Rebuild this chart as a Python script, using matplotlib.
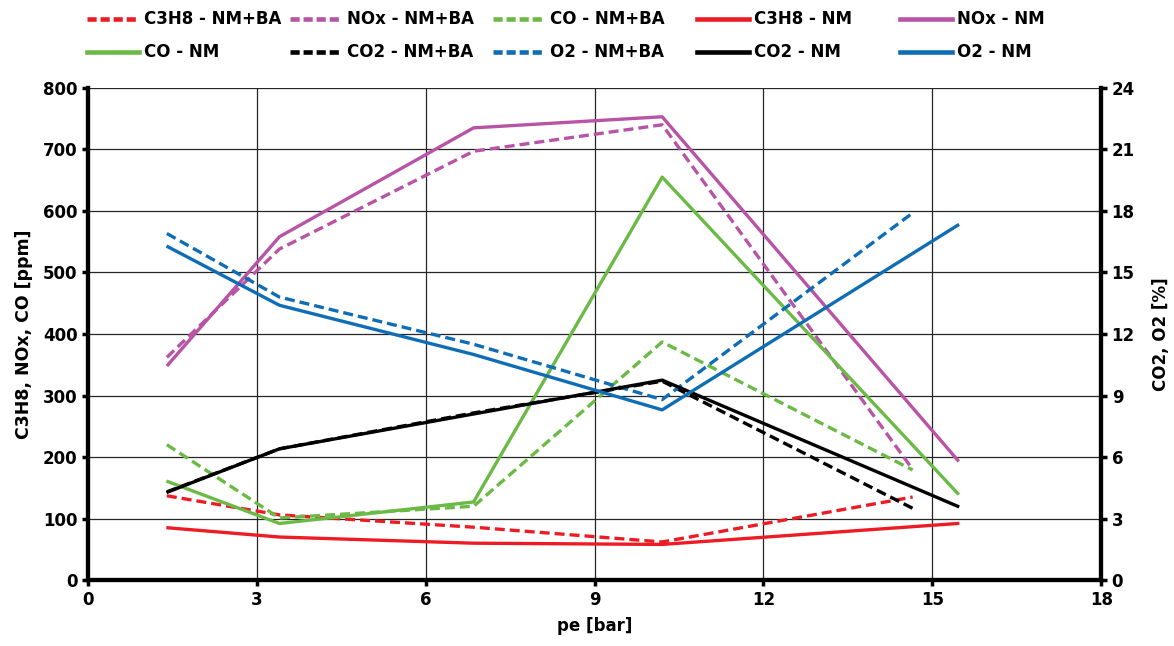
import matplotlib
matplotlib.use('Agg')
import matplotlib.pyplot as plt
from matplotlib.lines import Line2D

plt.rcParams['font.family'] = ['DejaVu Sans']
plt.rcParams['font.weight'] = 'bold'

# pe [bar] for the two test series
pe_ba = [1.4, 3.4, 6.85, 10.2, 14.65]
pe_nm = [1.42, 3.4, 6.85, 10.2, 15.45]

# ppm (left axis)
c3h8_ba = [137, 106, 86, 62, 135]
c3h8_nm = [85, 70, 60, 58, 92]
nox_ba = [362, 538, 697, 740, 180]
nox_nm = [350, 558, 735, 753, 195]
co_ba = [220, 101, 120, 387, 179]
co_nm = [160, 92, 127, 655, 141]

# % (right axis)
co2_ba = [4.3, 6.4, 8.15, 9.7, 3.5]
co2_nm = [4.3, 6.4, 8.1, 9.75, 3.6]
o2_ba = [16.9, 13.8, 11.5, 8.8, 17.9]
o2_nm = [16.25, 13.4, 11.0, 8.3, 17.3]

red = '#ED1C24'
purple = '#B854A6'
green = '#6BBA45'
blue = '#0F6DB5'
black = '#000000'

lw = 2.4
dash = (3, 1.5)
fs = 12

fig = plt.figure(figsize=(11.74, 6.46), dpi=100)
ax = fig.add_axes([0.075, 0.102, 0.863, 0.762])
ax2 = ax.twinx()

ax.plot(pe_ba, c3h8_ba, color=red, lw=lw, dashes=dash)
ax.plot(pe_ba, nox_ba, color=purple, lw=lw, dashes=dash)
ax.plot(pe_ba, co_ba, color=green, lw=lw, dashes=dash)
ax.plot(pe_nm, c3h8_nm, color=red, lw=lw)
ax.plot(pe_nm, nox_nm, color=purple, lw=lw)
ax.plot(pe_nm, co_nm, color=green, lw=lw)
ax2.plot(pe_ba, co2_ba, color=black, lw=lw, dashes=dash)
ax2.plot(pe_ba, o2_ba, color=blue, lw=lw, dashes=dash)
ax2.plot(pe_nm, co2_nm, color=black, lw=lw)
ax2.plot(pe_nm, o2_nm, color=blue, lw=lw)

ax.set_xlim(0, 18)
ax.set_ylim(0, 800)
ax2.set_ylim(0, 24)
ax.set_xticks(range(0, 19, 3))
ax.set_yticks(range(0, 801, 100))
ax2.set_yticks(range(0, 25, 3))
ax.grid(True, color='#262626', lw=0.9)
ax.set_axisbelow(True)

for a in (ax, ax2):
    for s in ('left', 'right', 'bottom'):
        a.spines[s].set_linewidth(3)
    a.spines['top'].set_visible(False)
    a.tick_params(width=2.5, length=4, labelsize=fs)
    for lab in a.get_xticklabels() + a.get_yticklabels():
        lab.set_fontweight('bold')

ax.set_xlabel('pe [bar]', fontsize=fs, fontweight='bold', labelpad=6)
ax.set_ylabel('C3H8, NOx, CO [ppm]', fontsize=12.5, fontweight='bold', labelpad=7)
ax2.set_ylabel('CO2, O2 [%]', fontsize=fs, fontweight='bold', labelpad=12)

labels = ['C3H8 - NM+BA', 'NOx - NM+BA', 'CO - NM+BA', 'C3H8 - NM', 'NOx - NM',
          'CO - NM', 'CO2 - NM+BA', 'O2 - NM+BA', 'CO2 - NM', 'O2 - NM']
colors = [red, purple, green, red, purple, green, black, blue, black, blue]
dashed = [True, True, True, False, False, False, True, True, False, False]
handles = []
for c, d in zip(colors, dashed):
    if d:
        handles.append(Line2D([], [], color=c, lw=3.3, dashes=(2.0, 0.85)))
    else:
        handles.append(Line2D([], [], color=c, lw=3.3))

# one legend per column so the columns are evenly spaced like the original
col_x = [87, 290, 493, 697, 900]
for i, x in enumerate(col_x):
    fig.legend([handles[i], handles[i + 5]], [labels[i], labels[i + 5]],
               loc='upper left', bbox_to_anchor=(x / 1174, 0.984), frameon=False,
               prop={'size': fs, 'weight': 'bold'}, handlelength=3.1,
               handletextpad=0.3, labelspacing=0.9, borderpad=0,
               borderaxespad=0)

fig.savefig('out.png', dpi=100)
